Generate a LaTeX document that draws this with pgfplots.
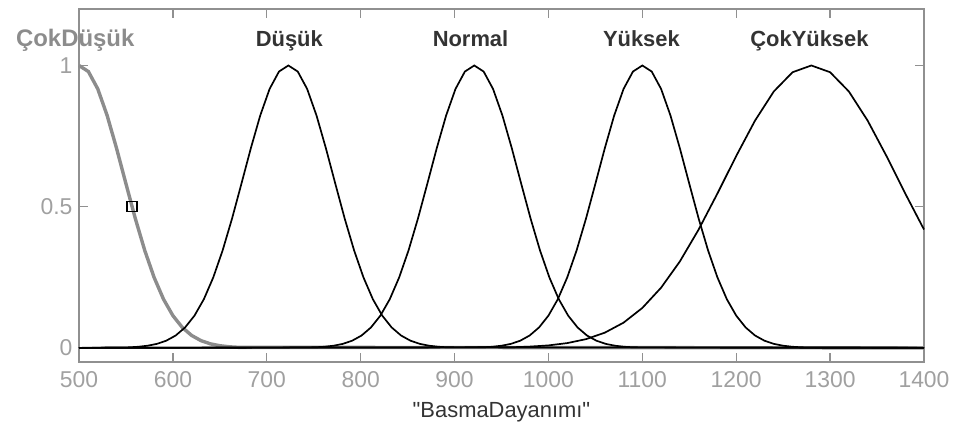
\documentclass[border=0pt]{standalone}
\usepackage{pgfplots}
\pgfplotsset{compat=1.18}
\usepackage{fontspec}
\setmainfont{Liberation Sans}
\newfontfamily\plainsans{Liberation Sans}[Ligatures=TeXOff]

\definecolor{axgray}{HTML}{909090}
\definecolor{ticktext}{HTML}{A0A0A0}
\definecolor{mfsel}{HTML}{8C8C8C}
\definecolor{mftext}{HTML}{333333}

\begin{document}
\begin{tikzpicture}
\begin{axis}[
  at={(79bp,72bp)}, anchor=south west,
  width=845bp, height=353bp, scale only axis,
  xmin=500, xmax=1400, ymin=-0.05, ymax=1.2,
  xtick={500,600,...,1400}, ytick={0,0.5,1},
  tick align=inside, tickwidth=9bp, major tick length=9bp,
  xtick pos=both, ytick pos=both,
  axis line style={axgray, line width=1.2bp},
  every tick/.style={draw=axgray, line width=1.4bp},
  tick label style={font=\fontsize{23}{25}\selectfont, text=ticktext},
  /pgf/number format/assume math mode=true,
  /pgf/number format/1000 sep={},
  xticklabel style={yshift=-6bp},
  yticklabel style={xshift=-3bp},
  xlabel={"BasmaDayanımı"},
  xlabel style={font=\plainsans\fontsize{22}{24}\selectfont, text=mftext, yshift=-8bp},
  clip=false,
]
% ÇokDüşük (selected, gray)
\addplot[mfsel, line width=3.4bp] coordinates {
(500,1)(510,0.9785)(520,0.9169)(530,0.8226)(540,0.7066)(550,0.5813)(560,0.4578)(570,0.3453)(580,0.2494)(590,0.1724)(600,0.1142)(610,0.0724)(620,0.0439)(630,0.0255)(640,0.0142)(650,0.0076)(660,0.0039)(670,0.0019)(1400,0)};
% Düşük
\addplot[black, line width=1.7bp] coordinates {
(500,0)(553,0.0019)(563,0.0039)(573,0.0076)(583,0.0142)(593,0.0255)(603,0.0439)(613,0.0724)(623,0.1142)(633,0.1724)(643,0.2494)(653,0.3453)(663,0.4578)(673,0.5813)(683,0.7066)(693,0.8226)(703,0.9169)(713,0.9785)(723,1)(733,0.9785)(743,0.9169)(753,0.8226)(763,0.7066)(773,0.5813)(783,0.4578)(793,0.3453)(803,0.2494)(813,0.1724)(823,0.1142)(833,0.0724)(843,0.0439)(853,0.0255)(863,0.0142)(873,0.0076)(883,0.0039)(893,0.0019)(1400,0)};
% Normal
\addplot[black, line width=1.7bp] coordinates {
(500,0)(751,0.0019)(761,0.0039)(771,0.0076)(781,0.0142)(791,0.0255)(801,0.0439)(811,0.0724)(821,0.1142)(831,0.1724)(841,0.2494)(851,0.3453)(861,0.4578)(871,0.5813)(881,0.7066)(891,0.8226)(901,0.9169)(911,0.9785)(921,1)(931,0.9785)(941,0.9169)(951,0.8226)(961,0.7066)(971,0.5813)(981,0.4578)(991,0.3453)(1001,0.2494)(1011,0.1724)(1021,0.1142)(1031,0.0724)(1041,0.0439)(1051,0.0255)(1061,0.0142)(1071,0.0076)(1081,0.0039)(1091,0.0019)(1400,0)};
% Yüksek
\addplot[black, line width=1.7bp] coordinates {
(500,0)(930,0.0019)(940,0.0039)(950,0.0076)(960,0.0142)(970,0.0255)(980,0.0439)(990,0.0724)(1000,0.1142)(1010,0.1724)(1020,0.2494)(1030,0.3453)(1040,0.4578)(1050,0.5813)(1060,0.7066)(1070,0.8226)(1080,0.9169)(1090,0.9785)(1100,1)(1110,0.9785)(1120,0.9169)(1130,0.8226)(1140,0.7066)(1150,0.5813)(1160,0.4578)(1170,0.3453)(1180,0.2494)(1190,0.1724)(1200,0.1142)(1210,0.0724)(1220,0.0439)(1230,0.0255)(1240,0.0142)(1250,0.0076)(1260,0.0039)(1270,0.0019)(1400,0)};
% ÇokYüksek
\addplot[black, line width=1.7bp] coordinates {
(500,0)(960,0.0021)(980,0.0044)(1000,0.0088)(1020,0.0169)(1040,0.0309)(1060,0.0538)(1080,0.0893)(1100,0.1414)(1120,0.2132)(1140,0.3062)(1160,0.4192)(1180,0.5468)(1200,0.6795)(1220,0.8046)(1240,0.9079)(1260,0.9761)(1280,1)(1300,0.9761)(1320,0.9079)(1340,0.8046)(1360,0.6795)(1380,0.5468)(1400,0.4192)};
% handle of the selected function
\addplot[only marks, mark=square, mark size=5bp, mark options={black, line width=1.3bp, fill=none}] coordinates {(556.5,0.5)};
% function names
\node[anchor=base, font=\bfseries\fontsize{24}{26}\selectfont, text=mfsel] at (axis cs:496,1.067) {ÇokDüşük};
\node[anchor=base, font=\bfseries\fontsize{22}{24}\selectfont, text=mftext] at (axis cs:724,1.067) {Düşük};
\node[anchor=base, font=\bfseries\fontsize{22}{24}\selectfont, text=mftext] at (axis cs:917,1.067) {Normal};
\node[anchor=base, font=\bfseries\fontsize{22}{24}\selectfont, text=mftext] at (axis cs:1099,1.067) {Yüksek};
\node[anchor=base, font=\bfseries\fontsize{22}{24}\selectfont, text=mftext] at (axis cs:1278,1.067) {ÇokYüksek};
\end{axis}
\pgfresetboundingbox
\path (0,0) rectangle (956bp,434bp);
\end{tikzpicture}
\end{document}
